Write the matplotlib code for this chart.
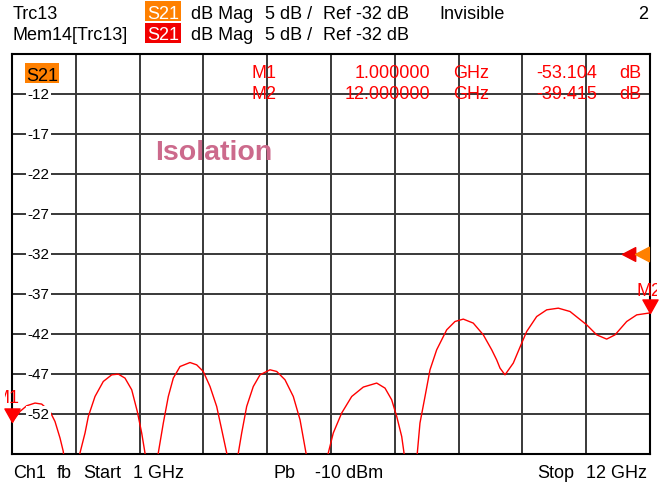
import matplotlib
matplotlib.use('Agg')
import numpy as np
import matplotlib.pyplot as plt
from matplotlib.patches import Rectangle
from matplotlib.transforms import Bbox, TransformedBbox, blended_transform_factory

W, H = 664, 488

# Trace (GHz, dB); nulls go below the bottom of the grid
freq_ghz = [1.000, 1.138, 1.253, 1.397, 1.512, 1.655, 1.741, 1.828, 1.884, 1.98,
            2.172, 2.259, 2.316, 2.431, 2.574, 2.719, 2.833, 2.948, 3.064, 3.160, 3.236, 3.293, 3.41,
            3.522, 3.609, 3.695, 3.781, 3.897, 4.069, 4.184, 4.298, 4.414, 4.529, 4.616, 4.702, 4.80,
            4.902, 4.960, 5.046, 5.160, 5.276, 5.448, 5.564, 5.707, 5.850, 5.966, 6.069, 6.26,
            6.453, 6.539, 6.684, 6.857, 7.057, 7.288, 7.431, 7.546, 7.633, 7.719, 7.759, 7.87,
            7.988, 8.034, 8.121, 8.207, 8.322, 8.495, 8.638, 8.781, 8.953, 9.126, 9.271, 9.357,
            9.414, 9.500, 9.643, 9.788, 9.874, 10.046, 10.219, 10.419, 10.621, 10.909, 11.081,
            11.253, 11.397, 11.598, 11.771, 12.000]
s21_db = [-53.10, -51.74, -51.03, -50.69, -50.82, -51.74, -52.99, -55.07, -56.74, -64.0,
          -56.94, -54.44, -52.37, -49.87, -47.99, -47.16, -47.07, -47.57, -49.03, -51.74, -54.44, -56.94, -64.0,
          -56.94, -53.19, -49.87, -47.57, -46.12, -45.62, -45.91, -46.74, -48.62, -51.12, -54.03, -56.94, -64.0,
          -56.94, -54.44, -51.12, -48.62, -47.16, -46.53, -46.74, -47.78, -49.87, -52.78, -56.94, -64.0,
          -56.94, -54.44, -51.94, -49.87, -48.69, -48.19, -48.82, -50.28, -52.37, -54.87, -56.94, -64.0,
          -56.94, -53.19, -49.87, -46.53, -44.03, -41.53, -40.49, -40.19, -40.69, -42.16, -44.03, -45.30,
          -46.32, -47.16, -45.69, -43.19, -41.74, -39.87, -39.03, -38.82, -39.24, -40.91, -42.16,
          -42.69, -42.16, -40.49, -39.66, -39.415]

y_labels = [-12, -17, -22, -27, -32, -37, -42, -47, -52]
start_ghz, stop_ghz = 1, 12
top_db, bottom_db = -7, -57
ref_db = -32
m1_freq, m1_db = 1.0, -53.104
m2_freq, m2_db = 12.0, -39.415

ORANGE = '#ff8000'
RED = '#ff0000'
FONT = 'Liberation Sans'


def fx(x):
    return x / W


def fy(y):
    return 1 - y / H


fig = plt.figure(figsize=(W / 100, H / 100), dpi=100)
fig.patch.set_facecolor('white')

ax_top, ax_bot, ax_left, ax_right = 53.75, 453.5, 12, 650
ax = fig.add_axes([fx(ax_left), fy(ax_bot), (ax_right - ax_left) / W, (ax_bot - ax_top) / H])
ax.set_xlim(start_ghz, stop_ghz)
ax.set_ylim(bottom_db, top_db)
ax.set_xticks(np.linspace(start_ghz, stop_ghz, 11))
ax.set_yticks(np.arange(bottom_db, top_db + 1, 5))
ax.tick_params(length=0, labelbottom=False, labelleft=False)
ax.set_axisbelow(True)
ax.grid(True, color='#383838', lw=1.4)
for sp in ax.spines.values():
    sp.set_color('black')
    sp.set_linewidth(1.5)

ax.plot(freq_ghz, s21_db, color=RED, lw=1.0, zorder=3)

# y labels sit inside the grid on a white patch
bl = blended_transform_factory(ax.transAxes, ax.transData)
for v in y_labels:
    ax.text((38.5 - ax_left) / (ax_right - ax_left), v, str(v), transform=bl,
            ha='center', va='center_baseline', fontsize=11, family=FONT, color='black',
            bbox=dict(fc='white', ec='none', pad=1.2), zorder=4)

# markers
tri_down = [(0, 0), (-0.56, 1), (0.56, 1), (0, 0)]
tri_left = [(0, 0), (1, 0.52), (1, -0.52), (0, 0)]
ax.plot([m1_freq], [m1_db], ls='none', marker=tri_down, ms=19.5, color=RED, clip_on=False, zorder=5)
ax.plot([m2_freq], [m2_db], ls='none', marker=tri_down, ms=19.5, color=RED, clip_on=False, zorder=5)
ax.plot([(621.7 - ax_left) / (ax_right - ax_left)], [ref_db], transform=bl, ls='none',
        marker=tri_left, ms=19, color='#ee0000', clip_on=False, zorder=5)
ax.plot([(635 - ax_left) / (ax_right - ax_left)], [ref_db], transform=bl, ls='none',
        marker=tri_left, ms=20, color=ORANGE, clip_on=False, zorder=6)

clip = TransformedBbox(Bbox.from_extents(fx(5), 0, fx(657), 1), fig.transFigure)


def put(x, y, s, ha='left', color='black', size=13, weight='normal', clipped=False):
    t = fig.text(fx(x), fy(y), s, ha=ha, va='baseline', color=color, fontsize=size,
                 family=FONT, fontweight=weight)
    if clipped:
        t.set_clip_box(clip)
        t.set_clip_on(True)
    return t


put(-5, 403, 'M1', color=RED, clipped=True)
put(636.7, 295.5, 'M2', color=RED, clipped=True)

# header
fig.add_artist(Rectangle((fx(145.3), fy(21.3)), (181 - 145.3) / W, 20.6 / H,
                         transform=fig.transFigure, fc=ORANGE, ec='none'))
fig.add_artist(Rectangle((fx(145.3), fy(43.3)), (181 - 145.3) / W, 20.6 / H,
                         transform=fig.transFigure, fc='#f20000', ec='none'))
for base, name in [(19.3, 'Trc13'), (40.0, 'Mem14[Trc13]')]:
    put(12.7, base, name)
    put(163.2, base, 'S21', ha='center', color='white')
    put(190.7, base, 'dB Mag')
    put(265, base, '5 dB /')
    put(323.3, base, 'Ref -32 dB')
put(439.3, 19.3, 'Invisible')
put(648.3, 19.3, '2', ha='right')

# S21 tag inside the grid
fig.add_artist(Rectangle((fx(25.3), fy(83.3)), (58.7 - 25.3) / W, 20.6 / H,
                         transform=fig.transFigure, fc=ORANGE, ec='none', zorder=5))
t = put(42, 80.7, 'S21', ha='center')
t.set_zorder(6)

# marker table
for base, name, f, d in [(78.5, 'M1', '1.000000', '-53.104'), (99.0, 'M2', '12.000000', '-39.415')]:
    put(251.7, base, name, color=RED)
    put(430, base, f, ha='right', color=RED)
    put(453.3, base, 'GHz', color=RED)
    put(596.7, base, d, ha='right', color=RED)
    put(619.3, base, 'dB', color=RED)

put(155, 160, 'Isolation', color='#cc6a8c', size=20.5, weight='bold')

# footer
put(13.3, 478.3, 'Ch1')
put(56.7, 478.3, 'fb')
put(83.3, 478.3, 'Start')
put(133.3, 478.3, '1 GHz')
put(273.3, 478.3, 'Pb')
put(382.7, 478.3, '-10 dBm', ha='right')
put(537.3, 478.3, 'Stop')
put(646.7, 478.3, '12 GHz', ha='right')

fig.savefig('out.png', dpi=100)
